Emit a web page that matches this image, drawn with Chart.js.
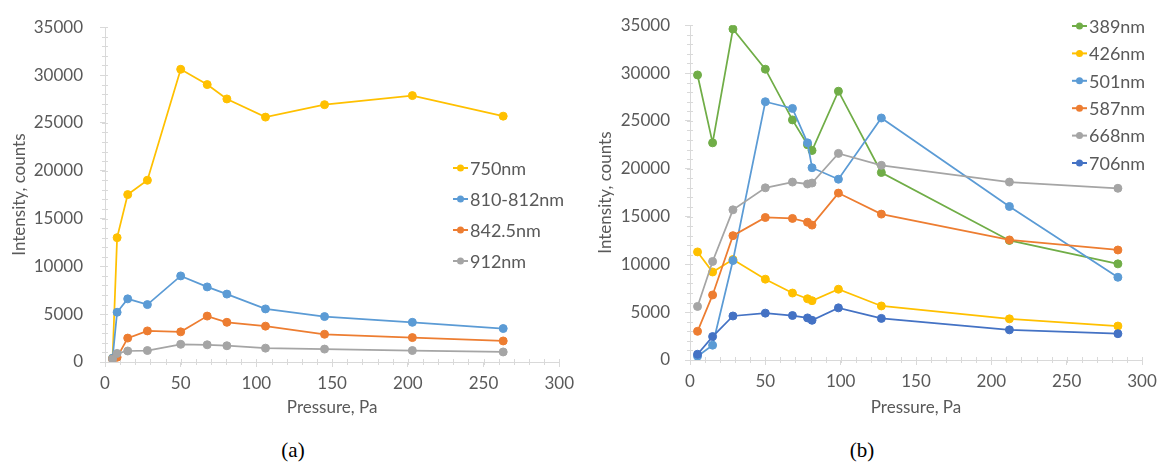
<!DOCTYPE html>
<html>
<head>
<meta charset="utf-8">
<title>Intensity vs pressure</title>
<script src="https://cdn.jsdelivr.net/npm/chart.js@4.4.1/dist/chart.umd.min.js"></script>
<style>
    html, body { margin: 0; padding: 0; background: #fff; }
    #wrap { position: relative; width: 1165px; height: 468px; overflow: hidden; }
    canvas { position: absolute; top: 0; }
    #chartA { left: 0; }
    #chartB { left: 580px; }
    .cap { position: absolute; top: 438px; width: 80px; text-align: center;
           font-family: "Liberation Serif", serif; font-size: 21px; color: #000; }
</style>
</head>
<body>
<div id="wrap">
    <canvas id="chartA" width="580" height="420"></canvas>
    <canvas id="chartB" width="585" height="420"></canvas>
    <div class="cap" style="left:253px">(a)</div>
    <div class="cap" style="left:822px">(b)</div>
</div>

<script>
// ---- data (a) ----
const pressureA = [5, 8, 15, 28, 50, 67.5, 80.5, 106, 145, 203, 263];
const labelsA = ['750nm', '810-812nm', '842.5nm', '912nm'];
const s750 = [400, 13000, 17500, 19000, 30600, 29000, 27500, 25600, 26900, 27850, 25700];
const s810 = [400, 5200, 6600, 6000, 9000, 7850, 7100, 5550, 4750, 4150, 3500];
const s842 = [300, 500, 2500, 3250, 3150, 4800, 4150, 3750, 2900, 2550, 2200];
const s912 = [300, 900, 1150, 1200, 1850, 1800, 1700, 1450, 1350, 1200, 1050];

// ---- data (b) ----
const pressureB = [5, 15, 28.5, 50, 68, 78, 81, 98.5, 127, 212, 284];
const labelsB = ['389nm', '426nm', '501nm', '587nm', '668nm', '706nm'];
const s389 = [29800, 22700, 34600, 30400, 25100, 22500, 21900, 28100, 19600, 12500, 10050];
const s426 = [11300, 9200, 10500, 8450, 7000, 6400, 6200, 7400, 5650, 4300, 3550];
const s501 = [400, 1550, 10400, 27000, 26300, 22700, 20100, 18900, 25300, 16050, 8650];
const s587 = [3000, 6800, 13000, 14900, 14800, 14400, 14100, 17450, 15250, 12550, 11500];
const s668 = [5600, 10300, 15700, 18000, 18600, 18400, 18500, 21600, 20350, 18600, 17950];
const s706 = [600, 2450, 4600, 4900, 4650, 4400, 4150, 5450, 4350, 3150, 2750];

// axis ticks
const xMax = 300, xStep = 50, xMinor = 10;
const yMax = 35000, yStep = 5000, yMinor = 1000;

const TEXT = '#595959';
const AXIS = '#D9D9D9';

function toPoints(xs, ys) {
    return xs.map((x, i) => ({ x: x, y: ys[i] }));
}

function makeSet(label, xs, ys, color, i) {
    return {
        label: label,
        data: toPoints(xs, ys),
        borderColor: color,
        backgroundColor: color,
        pointBackgroundColor: color,
        pointBorderColor: color,
        borderWidth: 1.75,
        pointRadius: 4,
        pointBorderWidth: 1,
        tension: 0,
        order: -i   // later series on top, like the original
    };
}

// small legend drawn inside the plot
const sideLegend = {
    id: 'sideLegend',
    afterDraw(chart, args, opts) {
        const ctx = chart.ctx;
        ctx.save();
        ctx.font = '18px Lato';
        ctx.textBaseline = 'middle';
        chart.data.datasets.forEach((ds, i) => {
            const y = opts.y + i * opts.gap;
            ctx.strokeStyle = ds.borderColor;
            ctx.lineWidth = 2;
            ctx.beginPath();
            ctx.moveTo(opts.x, y);
            ctx.lineTo(opts.x + 15, y);
            ctx.stroke();
            ctx.fillStyle = ds.borderColor;
            ctx.beginPath();
            ctx.arc(opts.x + 7.5, y, 3.5, 0, Math.PI * 2);
            ctx.fill();
            ctx.fillStyle = TEXT;
            ctx.fillText(ds.label, opts.x + 17, y + 1);
        });
        ctx.restore();
    }
};

// faint minor tick marks crossing the axes
const minorTicks = {
    id: 'minorTicks',
    beforeDatasetsDraw(chart) {
        const { ctx, scales: { x, y } } = chart;
        ctx.save();
        ctx.strokeStyle = AXIS;
        ctx.lineWidth = 1;
        ctx.beginPath();
        for (let v = 0; v <= xMax; v += xMinor) {
            const px = Math.round(x.getPixelForValue(v)) + 0.5;
            ctx.moveTo(px, y.bottom - 3);
            ctx.lineTo(px, y.bottom + 3);
        }
        for (let v = 0; v <= yMax; v += yMinor) {
            const py = Math.round(y.getPixelForValue(v)) + 0.5;
            ctx.moveTo(x.left - 3, py);
            ctx.lineTo(x.left + 3, py);
        }
        ctx.stroke();
        ctx.restore();
    }
};

function buildChart(id, datasets, lay) {
    const font = { family: 'Lato', size: 17 };
    return new Chart(document.getElementById(id), {
        type: 'line',
        data: { datasets: datasets },
        plugins: [minorTicks, sideLegend],
        options: {
            responsive: false,
            animation: false,
            devicePixelRatio: 1,
            layout: { padding: { top: lay.top, right: lay.right, bottom: 0, left: 0 } },
            plugins: {
                legend: { display: false },
                tooltip: { enabled: false },
                sideLegend: lay.legend
            },
            scales: {
                x: {
                    type: 'linear',
                    min: 0, max: xMax,
                    ticks: { stepSize: xStep, color: TEXT, font: font, padding: 6, maxRotation: 0,
                             callback: v => String(v) },
                    grid: { drawOnChartArea: false, color: AXIS, tickLength: 5 },
                    border: { color: AXIS },
                    title: { display: true, text: 'Pressure, Pa', color: TEXT, font: font,
                             padding: { top: 0, bottom: 2 } },
                    afterFit(s) { s.height = lay.xHeight; }
                },
                y: {
                    min: 0, max: yMax,
                    ticks: { stepSize: yStep, color: TEXT, font: font, padding: lay.yPad,
                             callback: v => String(v) },
                    grid: { drawOnChartArea: false, color: AXIS, tickLength: 5 },
                    border: { color: AXIS },
                    title: { display: true, text: 'Intensity, counts', color: TEXT, font: font,
                             padding: { top: lay.yTitlePad, bottom: 0 } },
                    afterFit(s) { s.width = lay.yWidth; }
                }
            }
        }
    });
}

buildChart('chartA', [
    makeSet(labelsA[0], pressureA, s750, '#FFC000', 0),
    makeSet(labelsA[1], pressureA, s810, '#5B9BD5', 1),
    makeSet(labelsA[2], pressureA, s842, '#ED7D31', 2),
    makeSet(labelsA[3], pressureA, s912, '#A5A5A5', 3)
], { top: 23, right: 13, xHeight: 58, yWidth: 105, yPad: 17, yTitlePad: 9,
     legend: { x: 453, y: 168, gap: 31 } });

buildChart('chartB', [
    makeSet(labelsB[0], pressureB, s389, '#70AD47', 0),
    makeSet(labelsB[1], pressureB, s426, '#FFC000', 1),
    makeSet(labelsB[2], pressureB, s501, '#5B9BD5', 2),
    makeSet(labelsB[3], pressureB, s587, '#ED7D31', 3),
    makeSet(labelsB[4], pressureB, s668, '#A5A5A5', 4),
    makeSet(labelsB[5], pressureB, s706, '#4472C4', 5)
], { top: 25, right: 23, xHeight: 60, yWidth: 110, yPad: 15, yTitlePad: 15,
     legend: { x: 492, y: 26, gap: 27.4 } });
</script>
</body>
</html>
